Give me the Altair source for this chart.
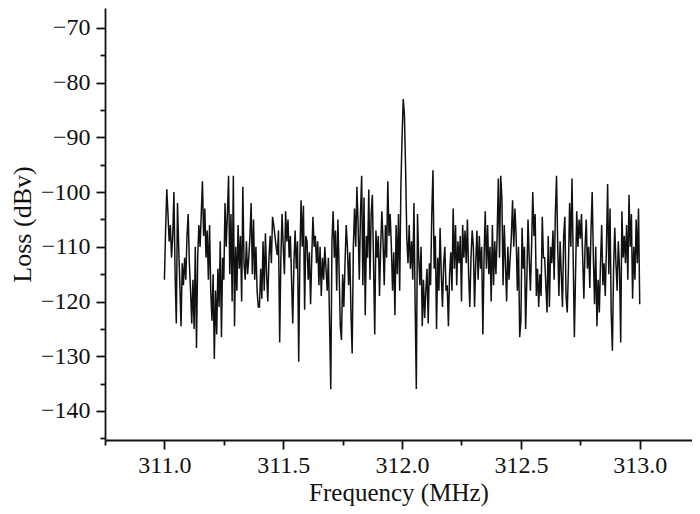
import altair as alt
import pandas as pd

# Loss (dBv), 20 samples per 0.1 MHz from 311.0 to 313.0 MHz
seg0 = [-116, -107, -99.5, -104, -109, -106, -112, -108, -100, -115, -124, -102, -110, -117, -124.5, -113, -117, -112, -116, -108]
seg1 = [-104, -113, -118, -124, -116, -125, -110, -128.5, -112, -106, -110, -104, -98, -108, -103, -112, -107, -116, -106, -118]
seg2 = [-123.5, -115, -130.5, -118, -126, -114, -121, -109, -126.5, -112, -116, -102, -110, -104, -97, -115, -104, -120, -97, -124.5]
seg3 = [-110, -118, -106, -114, -108, -120, -99, -113, -116, -109, -115, -112, -108, -102, -115, -105, -116, -110, -118, -121]
seg4 = [-121, -114, -119.5, -109, -118, -107.5, -115, -120, -112, -108, -113, -104.5, -106, -108, -110, -111.5, -107, -127.5, -112, -104]
seg5 = [-110, -115, -103.5, -109, -105, -112, -108, -116, -124, -113, -107, -114, -109, -131, -112, -101.5, -110, -102.5, -121.5, -108]
seg6 = [-109, -116, -111, -120.5, -112, -104.5, -110, -108, -113, -109, -117, -110, -119, -112, -116, -110, -114, -118, -112, -124]
seg7 = [-136, -109, -103.5, -112, -107, -118, -105, -114, -124.5, -127, -115, -121, -113, -106, -110, -117, -111, -122, -129.5, -110]
seg8 = [-103, -110, -99, -106, -116, -104, -97, -117, -101, -122.5, -108, -112, -99.5, -116, -104, -100.5, -113, -126, -107, -112]
seg9 = [-108, -119, -110, -103.5, -109, -117, -106, -112, -98, -108, -104, -110, -118, -111, -122.5, -106, -115, -104, -118, -99]
seg10 = [-90, -83, -86, -96, -108.5, -113, -106, -114, -109, -116, -102, -120.5, -136, -104, -112, -117, -110, -124.5, -116, -123]
seg11 = [-118, -114, -124, -113, -117, -104, -96, -114, -108, -125, -112, -118, -106.5, -115, -121, -113, -110, -118, -117, -124.5]
seg12 = [-115, -111, -118, -103, -114, -106, -117, -109, -113, -108, -120, -106, -112, -107, -113, -105, -115, -121, -112, -107]
seg13 = [-110, -121, -113, -107, -116, -108, -114, -110, -126, -112, -103.5, -114, -106, -115, -110, -120, -106, -117, -109, -115]
seg14 = [-108, -97.5, -112, -97, -101, -117, -106, -113, -120, -110, -116, -112, -108, -101.5, -110, -103, -108, -118, -110, -126.5]
seg15 = [-123.5, -106.5, -114, -110, -125, -116, -105, -112, -118, -110, -100, -108, -104, -119, -114, -121, -115, -119, -104.5, -112]
seg16 = [-112, -117, -122, -108, -121, -110, -113, -107, -116, -104, -97, -110, -119, -109, -115, -121, -108, -104.5, -119, -122]
seg17 = [-114, -102, -110, -97.5, -112, -126.5, -115, -103.5, -110, -105, -108.5, -104, -112, -119.5, -110, -105, -114, -110, -117.5, -107]
seg18 = [-100, -112, -120.5, -110, -124.5, -116, -122, -113, -106, -117, -113, -119, -110, -98.5, -115, -103, -122, -129, -114, -106.5]
seg19 = [-113, -118, -109, -114, -127.5, -103.5, -112, -108, -113, -106, -116, -100.5, -110, -104, -119.5, -110, -116, -105, -113, -103]
seg_end = [-120.5]

freq_start = 311.0
freq_step = 0.005

x_ticks = [310.75, 311.0, 311.25, 311.5, 311.75, 312.0, 312.25, 312.5, 312.75, 313.0]
y_ticks = [-145, -140, -135, -130, -125, -120, -115, -110, -105, -100, -95, -90, -85, -80, -75, -70]

loss = (seg0 + seg1 + seg2 + seg3 + seg4 + seg5 + seg6 + seg7 + seg8 + seg9 + seg10 +
        seg11 + seg12 + seg13 + seg14 + seg15 + seg16 + seg17 + seg18 + seg19 + seg_end)
freq = [round(freq_start + i * freq_step, 3) for i in range(len(loss))]
df = pd.DataFrame({"freq": freq, "loss": loss})

FONT = "Liberation Serif"

x_axis = alt.Axis(
    title="Frequency (MHz)",
    values=x_ticks,
    format=".1f",
    labelExpr="datum.value % 0.5 == 0 ? datum.label : ''",
    tickSize={"condition": {"test": "datum.value % 0.5 == 0", "value": 9}, "value": 5},
    labelPadding=4,
    titlePadding=3,
    titleFontSize=25,
    labelFlush=False,
    labelOverlap=False,
)
y_axis = alt.Axis(
    title="Loss (dBv)",
    values=y_ticks,
    format="d",
    labelExpr="datum.value % 10 == 0 ? datum.label : ''",
    tickSize={"condition": {"test": "datum.value % 10 == 0", "value": 9}, "value": 5},
    labelPadding=6,
    titlePadding=5,
    titleFontSize=26,
    labelFlush=False,
    labelOverlap=False,
)

chart = (
    alt.Chart(df)
    .mark_line(color="#111111", strokeWidth=1.5, clip=True)
    .encode(
        x=alt.X("freq:Q", scale=alt.Scale(domain=[310.75, 313.22], nice=False, zero=False), axis=x_axis),
        y=alt.Y("loss:Q", scale=alt.Scale(domain=[-145.3, -66.35], nice=False, zero=False), axis=y_axis),
    )
    .properties(
        width=587,
        height=432,
        autosize=alt.AutoSizeParams(type="none"),
        padding={"left": 97, "top": 0, "right": 0, "bottom": 70},
    )
    .configure_view(stroke=None)
    .configure_axis(
        grid=False,
        domainColor="#111111",
        domainWidth=1.8,
        tickColor="#111111",
        tickWidth=1.8,
        labelFont=FONT,
        labelFontSize=24,
        labelColor="#111111",
        titleFont=FONT,
        titleFontWeight="normal",
        titleColor="#111111",
    )
)

chart.save("out.html", embed_options={"renderer": "svg", "actions": False})
